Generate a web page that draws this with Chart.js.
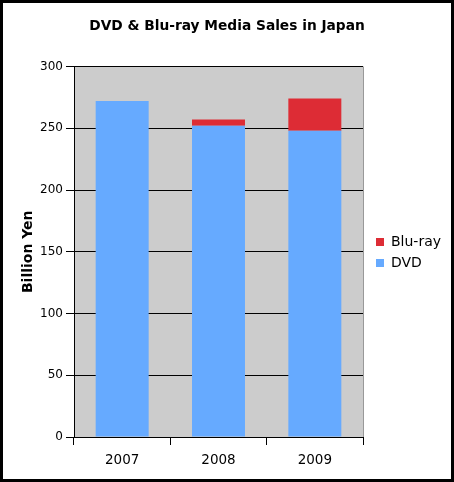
<!DOCTYPE html>
<html>
<head>
<meta charset="utf-8">
<script src="https://cdn.jsdelivr.net/npm/chart.js@4.4.1/dist/chart.umd.min.js"></script>
<style>
  body { margin: 0; background: #fff; }
  #frame { width: 448px; height: 476px; border: 3px solid #000; }
  canvas { display: block; }
</style>
</head>
<body>
<div id="frame"><canvas id="salesChart" width="448" height="476"></canvas></div>
<script>
// values (billion yen)
const years = ['2007', '2008', '2009'];
const dvdSales = [272, 252, 248];
const bluraySales = [0, 5, 26];
const yTicks = [0, 50, 100, 150, 200, 250, 300];

Chart.defaults.font.family = 'DejaVu Sans';
Chart.defaults.color = '#000';

// grey plot background plus grey right edge
const plotBackground = {
  id: 'plotBackground',
  beforeDraw(chart) {
    const { ctx, chartArea: a } = chart;
    ctx.save();
    ctx.fillStyle = '#cccccc';
    ctx.fillRect(a.left, a.top, a.right - a.left, a.bottom - a.top);
    ctx.restore();
  },
  afterDraw(chart) {
    const { ctx, chartArea: a } = chart;
    ctx.save();
    ctx.strokeStyle = '#999';
    ctx.lineWidth = 1;
    ctx.beginPath();
    ctx.moveTo(a.right + 0.5, a.top);
    ctx.lineTo(a.right + 0.5, a.bottom);
    ctx.stroke();
    ctx.restore();
  }
};

// small legend on the right, top item = last dataset
const sideLegend = {
  id: 'sideLegend',
  afterDraw(chart) {
    const ctx = chart.ctx;
    const sets = chart.data.datasets.slice().reverse();
    ctx.save();
    ctx.font = '14px DejaVu Sans';
    ctx.textBaseline = 'middle';
    sets.forEach((ds, i) => {
      const y = 239 + i * 21;
      ctx.fillStyle = ds.backgroundColor;
      ctx.fillRect(373, y - 4, 8, 8);
      ctx.fillStyle = '#000';
      ctx.fillText(ds.label, 388, y);
    });
    ctx.restore();
  }
};

new Chart(document.getElementById('salesChart'), {
  type: 'bar',
  data: {
    labels: years,
    datasets: [
      { label: 'DVD', data: dvdSales, backgroundColor: '#66aaff' },
      { label: 'Blu-ray', data: bluraySales, backgroundColor: '#dd2c35' }
    ]
  },
  options: {
    responsive: false,
    animation: false,
    devicePixelRatio: 1,
    datasets: { bar: { barPercentage: 0.55, categoryPercentage: 1.0 } },
    plugins: {
      legend: { display: false },
      tooltip: { enabled: false },
      title: {
        display: true,
        text: 'DVD & Blu-ray Media Sales in Japan',
        font: { size: 13.75, weight: 'bold' },
        color: '#000',
        padding: { top: 15, bottom: 32 }
      }
    },
    scales: {
      x: {
        stacked: true,
        offset: true,
        grid: { offset: true, drawOnChartArea: false, color: '#000', tickLength: 8 },
        border: { color: '#000' },
        ticks: { font: { size: 13.5 }, padding: 7, color: '#000' },
        afterFit(scale) { scale.height = 42; }
      },
      y: {
        stacked: true,
        min: 0,
        max: 300,
        afterBuildTicks(scale) { scale.ticks = yTicks.map(v => ({ value: v })); },
        grid: { color: '#000', tickLength: 8 },
        border: { color: '#000' },
        ticks: { font: { size: 12 }, padding: 3, color: '#000' },
        title: {
          display: true,
          text: 'Billion Yen',
          font: { size: 14, weight: 'bold' },
          color: '#000',
          padding: { top: 17, bottom: 0 }
        },
        afterFit(scale) { scale.width = 71; }
      },
      // empty right-hand axis that only reserves room for the legend
      legendSpace: {
        type: 'linear',
        position: 'right',
        display: true,
        grid: { display: false },
        border: { display: false },
        ticks: { display: false },
        afterFit(scale) { scale.width = 88; }
      }
    }
  },
  plugins: [plotBackground, sideLegend]
});
</script>
</body>
</html>
